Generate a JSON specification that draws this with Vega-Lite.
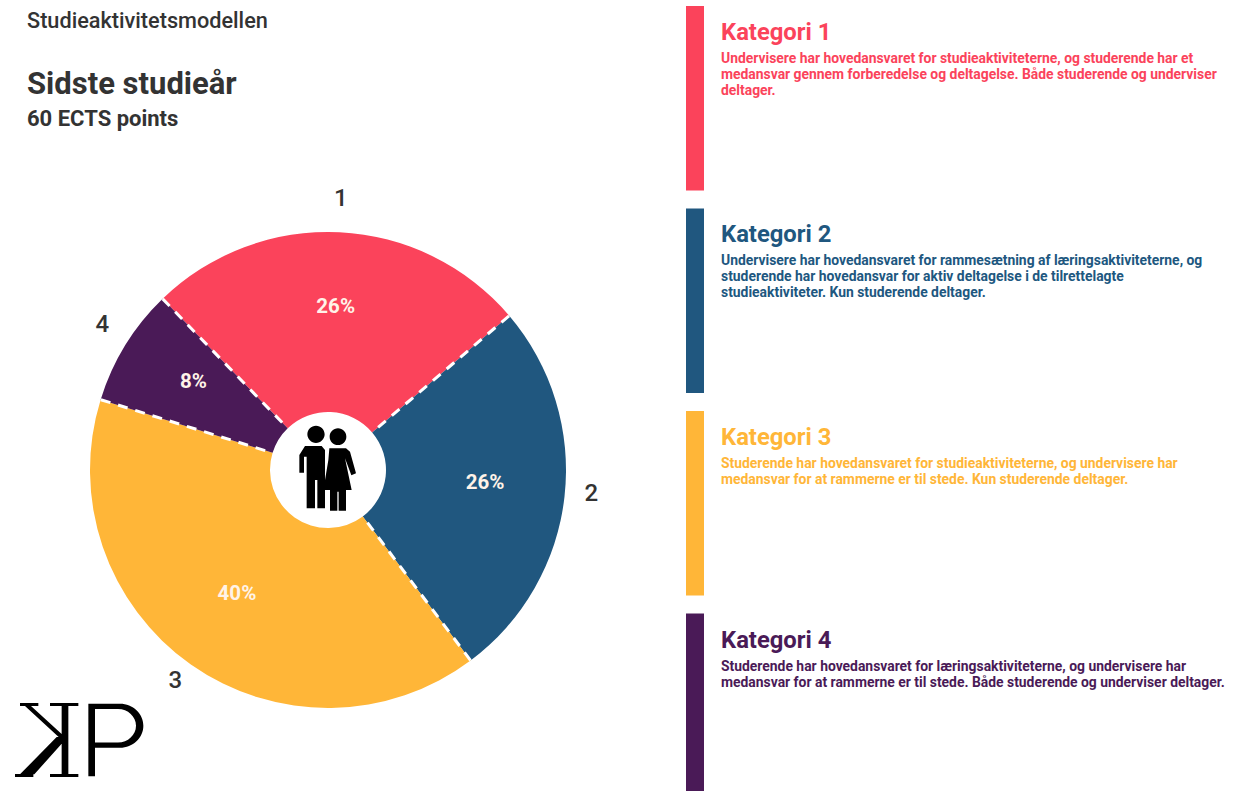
{
"$schema":"https://vega.github.io/schema/vega-lite/v6.json",
"padding":0,
"background":"white",
"config":{"view":{"stroke":null},"concat":{"spacing":0},"font":"Roboto"},
"spacing":30,
"hconcat":[
{"spacing":0,"vconcat":[
 {"width":656,"height":42,
  "data":{"values":[{"tekst":"Studieaktivitetsmodellen"}]},
  "mark":{"type":"text","align":"left","baseline":"middle","fontWeight":500,"fontSize":21.7,"color":"#333333"},
  "encoding":{"x":{"value":27},"text":{"field":"tekst"}}},
 {"width":656,"height":109,
  "data":{"values":[
   {"linje":"b","tekst":"Sidste studieår"},
   {"linje":"c","tekst":"60 ECTS points"}]},
  "mark":{"type":"text","align":"left","baseline":"middle","fontWeight":700,"color":"#333333"},
  "encoding":{"x":{"value":27},
   "y":{"field":"linje","type":"ordinal","axis":null,"scale":{"type":"point","domain":["b","c"],"range":[43,77],"padding":0}},
   "text":{"field":"tekst"},
   "size":{"field":"linje","type":"ordinal","legend":null,"scale":{"domain":["b","c"],"range":[31,22]}}}},
 {"width":656,"height":638,
  "datasets":{},
  "layer":[
   {"data":{"name":"andele","values":[
     {"k":"1","andel":26,"tekst":"26%"},
     {"k":"2","andel":26,"tekst":"26%"},
     {"k":"3","andel":40,"tekst":"40%"},
     {"k":"4","andel":8,"tekst":"8%"}]},
    "mark":{"type":"arc","outerRadius":238,"innerRadius":58},
    "encoding":{
     "theta":{"field":"andel","type":"quantitative","stack":true,"scale":{"domain":[0,100],"range":[-0.768,5.515]}},
     "order":{"field":"k"},
     "color":{"field":"k","type":"nominal","legend":null,"scale":{"domain":["1","2","3","4"],"range":["#FB435B","#20577F","#FFB638","#4A1A57"]}}}},
   {"data":{"name":"andele"},
    "transform":[{"stack":"andel","groupby":[],"sort":[{"field":"k","order":"ascending"}],"as":["s0","s1"]},{"filter":"datum.k === '1' || datum.k === '2'"}],
    "mark":{"type":"arc","outerRadius":238,"innerRadius":58,"fill":"transparent","stroke":"white","strokeWidth":3,"strokeDash":[0,388.8,10,8,10,8,10,8,10,8,10,8,10,8,10,8,10,8,10,8,10,10000]},
    "encoding":{
     "theta":{"field":"s0","type":"quantitative","scale":{"domain":[0,100],"range":[-0.768,5.515]}},
     "theta2":{"field":"s1"},"detail":{"field":"k"}}},
   {"data":{"name":"andele"},
    "transform":[{"stack":"andel","groupby":[],"sort":[{"field":"k","order":"ascending"}],"as":["s0","s1"]},{"filter":"datum.k === '3'"}],
    "mark":{"type":"arc","outerRadius":238,"innerRadius":58,"fill":"transparent","stroke":"white","strokeWidth":3,"strokeDash":[0,598.2,10,8,10,8,10,8,10,8,10,8,10,8,10,8,10,8,10,8,10,10000]},
    "encoding":{
     "theta":{"field":"s0","type":"quantitative","scale":{"domain":[0,100],"range":[-0.768,5.515]}},
     "theta2":{"field":"s1"},"detail":{"field":"k"}}},
   {"data":{"name":"andele"},
    "transform":[{"stack":"andel","groupby":[],"sort":[{"field":"k","order":"ascending"}],"as":["s0","s1"]},{"filter":"datum.k === '4'"}],
    "mark":{"type":"arc","outerRadius":238,"innerRadius":58,"fill":"transparent","stroke":"white","strokeWidth":3,"strokeDash":[0,119.6,10,8,10,8,10,8,10,8,10,8,10,8,10,8,10,8,10,8,10,10000]},
    "encoding":{
     "theta":{"field":"s0","type":"quantitative","scale":{"domain":[0,100],"range":[-0.768,5.515]}},
     "theta2":{"field":"s1"},"detail":{"field":"k"}}},
   {"data":{"name":"andele"},
    "mark":{"type":"text","radius":158,"fontWeight":700,"fontSize":20.5,"color":"#FFF3E8","yOffset":-5},
    "encoding":{
     "theta":{"field":"andel","type":"quantitative","stack":true,"scale":{"domain":[0,100],"range":[-0.768,5.515]}},
     "order":{"field":"k"},"detail":{"field":"k"},
     "text":{"field":"tekst"}}},
   {"data":{"name":"andele"},
    "mark":{"type":"text","radius":265,"fontWeight":500,"fontSize":24,"color":"#333333","yOffset":-6},
    "encoding":{
     "theta":{"field":"andel","type":"quantitative","stack":true,"scale":{"domain":[0,100],"range":[-0.768,5.515]}},
     "order":{"field":"k"},"detail":{"field":"k"},
     "text":{"field":"k"}}},
   {"data":{"values":[{"ikon":"personer"}]},
    "mark":{"type":"point","filled":true,"opacity":1,"color":"#000000","size":10000,
     "shape":"M-.413 -.713a.173 .173 0 1 0 .346 0a.173 .173 0 1 0 -.346 0z M.033 -.667a.167 .167 0 1 0 .334 0a.167 .167 0 1 0 -.334 0z M-.46 -.48L-.127 -.48L-.06 -.4L-.06 .767L-.213 .767L-.213 .2L-.26 .2L-.26 .767L-.427 .767L-.427 -.267L-.48 -.267L-.48 .053L-.573 .053L-.573 -.3z M.027 -.433L.36 -.433L.44 -.367L.56 .067L.467 .107L.34 -.233L.473 .4L.36 .4L.36 .813L.213 .813L.213 .433L.187 .433L.187 .813L.04 .813L.04 .4L-.093 .4L.007 -.2z"},
    "encoding":{}},
   {"data":{"values":[{"logo":"KP"}]},
    "mark":{"type":"point","filled":true,"opacity":1,"color":"#000000","size":10000,
     "shape":"M-.347 -.693L-.213 -.693L-.213 .707L-.347 .707z M-.58 -.74L-.013 -.74L-.013 -.68L-.58 -.68z M-.58 .68L-.013 .68L-.013 .74L-.58 .74z M-1.18 -.74L-.813 -.74L-.813 -.68L-1.18 -.68z M-1.28 .68L-.913 .68L-.913 .74L-1.28 .74z M-1.08 -.68L-.96 -.68L-.347 -.12L-.347 -.007z M-.447 -.06L-.347 -.06L-.347 .073L-.893 .687L-1.18 .687z M.187 -.727L.82 -.727A.467 .44 0 0 1 .82 .153L.32 .153L.32 .727L.187 .727z M.32 -.62L.32 .05L.78 .05A.36 .335 0 0 0 .78 -.62z"},
    "encoding":{"x":{"value":79},"y":{"value":589}}}
  ]}
 ]},
 {"spacing":17,"hconcat":[
  {"width":18,"height":791,
   "data":{"name":"kategorier","values":[
    {"k":"1","titel":"Kategori 1","tekst":"Undervisere har hovedansvaret for studieaktiviteterne, og studerende har et\nmedansvar gennem forberedelse og deltagelse. Både studerende og underviser\ndeltager."},
    {"k":"2","titel":"Kategori 2","tekst":"Undervisere har hovedansvaret for rammesætning af læringsaktiviteterne, og\nstuderende har hovedansvar for aktiv deltagelse i de tilrettelagte\nstudieaktiviteter. Kun studerende deltager."},
    {"k":"3","titel":"Kategori 3","tekst":"Studerende har hovedansvaret for studieaktiviteterne, og undervisere har\nmedansvar for at rammerne er til stede. Kun studerende deltager."},
    {"k":"4","titel":"Kategori 4","tekst":"Studerende har hovedansvaret for læringsaktiviteterne, og undervisere har\nmedansvar for at rammerne er til stede. Både studerende og underviser deltager."}]},
   "mark":{"type":"rect","clip":true},
   "encoding":{
    "y":{"field":"k","type":"nominal","axis":null,"scale":{"type":"band","domain":["1","2","3","4"],"range":[0,804],"paddingInner":0.0889,"paddingOuter":0.0296}},
    "color":{"field":"k","type":"nominal","legend":null,"scale":{"domain":["1","2","3","4"],"range":["#FB435B","#20577F","#FFB638","#4A1A57"]}}}},
  {"width":515,"height":791,
   "data":{"name":"kategorier"},
   "layer":[
    {"mark":{"type":"text","align":"left","baseline":"middle","fontSize":23.8,"fontWeight":700,"yOffset":27},
     "encoding":{"x":{"value":0},
      "y":{"field":"k","type":"nominal","bandPosition":0,"axis":null,"scale":{"type":"band","domain":["1","2","3","4"],"range":[0,804],"paddingInner":0.0889,"paddingOuter":0.0296}},
      "text":{"field":"titel"},
      "color":{"field":"k","type":"nominal","legend":null,"scale":{"domain":["1","2","3","4"],"range":["#FB435B","#20577F","#FFB638","#4A1A57"]}}}},
    {"mark":{"type":"text","align":"left","baseline":"top","fontSize":13.9,"fontWeight":700,"lineHeight":16,"lineBreak":"\n","yOffset":46},
     "encoding":{"x":{"value":0},
      "y":{"field":"k","type":"nominal","bandPosition":0,"axis":null,"scale":{"type":"band","domain":["1","2","3","4"],"range":[0,804],"paddingInner":0.0889,"paddingOuter":0.0296}},
      "text":{"field":"tekst"},
      "color":{"field":"k","type":"nominal","legend":null,"scale":{"domain":["1","2","3","4"],"range":["#FB435B","#20577F","#FFB638","#4A1A57"]}}}}
   ]}
 ]}
]}
